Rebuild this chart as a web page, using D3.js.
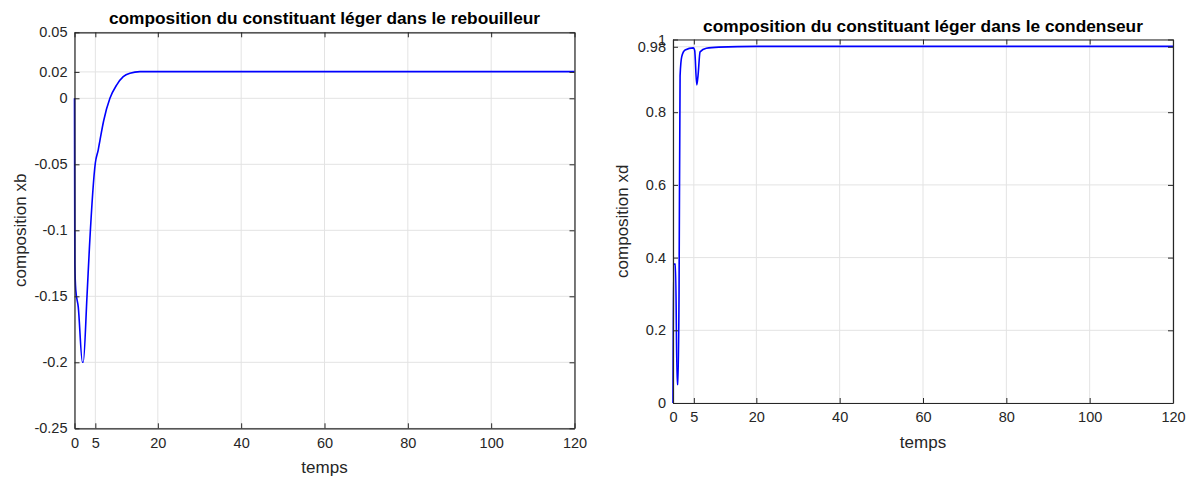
<!DOCTYPE html>
<html><head><meta charset="utf-8">
<script src="https://cdn.jsdelivr.net/npm/d3@7"></script>
<style>
body{margin:0;background:#fff;}
svg{font-family:"Liberation Sans",Arial,sans-serif;}
</style></head>
<body><svg id="c" width="1194" height="477"></svg>
<script>
// ---- data ----
const xTicks = [0, 5, 20, 40, 60, 80, 100, 120];
const xbTicks = [0.05, 0.02, 0, -0.05, -0.1, -0.15, -0.2, -0.25];
const xdTicks = [0, 0.2, 0.4, 0.6, 0.8, 0.98, 1];
const xbT = [0, 0.08, 0.3, 0.9, 1.9, 2.1, 3.0, 3.6, 5.0, 5.7, 6.1, 7.0, 8.5, 10.1, 11.7, 13.3, 15.7, 20, 120];
const xbV = [0, -0.125, -0.145, -0.158, -0.2, -0.2, -0.15, -0.112, -0.049, -0.039, -0.032, -0.017, 0, 0.01, 0.0164, 0.019, 0.0202, 0.0202, 0.0202];
const xdT = [0, 0.15, 0.6, 1.0, 1.2, 1.45, 1.7, 2.1, 2.9, 4.9, 5.2, 5.7, 6.0, 6.5, 8.0, 11, 20, 120];
const xdV = [0, 0.382, 0.382, 0.051, 0.051, 0.3, 0.9, 0.953, 0.971, 0.977, 0.97, 0.875, 0.9, 0.966, 0.976, 0.979, 0.981, 0.981];
const title1 = "composition du constituant léger dans le rebouilleur";
const title2 = "composition du constituant léger dans le condenseur";

const svg = d3.select("#c");
const axisCol = "#262626";

function panel(o){
  const g = svg.append("g");
  const x = d3.scaleLinear().domain([0,120]).range([o.x0,o.x1]);
  const y = d3.scaleLinear().domain(o.ydom).range([o.y1,o.y0]);
  // grid
  g.append("g").selectAll("line").data(xTicks).join("line")
    .attr("x1",d=>x(d)).attr("x2",d=>x(d)).attr("y1",o.y0).attr("y2",o.y1)
    .attr("stroke","#e3e3e3").attr("stroke-width",1);
  g.append("g").selectAll("line").data(o.yticks).join("line")
    .attr("x1",o.x0).attr("x2",o.x1).attr("y1",d=>y(d)).attr("y2",d=>y(d))
    .attr("stroke","#e3e3e3").attr("stroke-width",1);
  // line
  const pts = d3.zip(o.t,o.v);
  g.append("path").datum(pts)
    .attr("d", d3.line().x(d=>x(d[0])).y(d=>y(d[1])).curve(d3.curveMonotoneX))
    .attr("fill","none").attr("stroke","#0000ff").attr("stroke-width",1.6);
  // axes (inner ticks, box)
  const ax = (gen, tr)=>{ const a = g.append("g").attr("transform",tr).call(gen);
    a.select(".domain").attr("stroke",axisCol);
    a.selectAll(".tick line").attr("stroke",axisCol);
    a.selectAll("text").attr("fill",axisCol).style("font-size","14.5px").style("font-family","Liberation Sans, Arial, sans-serif");
    return a; };
  ax(d3.axisBottom(x).tickValues(xTicks).tickSizeInner(-5).tickSizeOuter(0).tickPadding(9), `translate(0,${o.y1})`);
  ax(d3.axisTop(x).tickValues(xTicks).tickSizeInner(-5).tickSizeOuter(0).tickFormat(""), `translate(0,${o.y0})`);
  ax(d3.axisLeft(y).tickValues(o.yticks).tickSizeInner(-5).tickSizeOuter(0).tickPadding(7).tickFormat(o.fmt), `translate(${o.x0},0)`);
  ax(d3.axisRight(y).tickValues(o.yticks).tickSizeInner(-5).tickSizeOuter(0).tickFormat(""), `translate(${o.x1},0)`);
  g.selectAll(".domain").attr("stroke-width",1.2);
  // labels
  g.append("text").attr("x",(o.x0+o.x1)/2).attr("y",o.titleY).attr("text-anchor","middle")
    .style("font-size","17.3px").style("font-weight","bold").attr("fill","#000").text(o.title);
  g.append("text").attr("x",(o.x0+o.x1)/2).attr("y",o.y1+45).attr("text-anchor","middle")
    .style("font-size","17px").attr("fill",axisCol).text("temps");
  g.append("text").attr("transform",`translate(${o.ylx},${(o.y0+o.y1)/2}) rotate(-90)`).attr("text-anchor","middle")
    .style("font-size","17px").attr("fill",axisCol).text(o.ylabel);
}

panel({x0:74.5,x1:574.5,y0:32.3,y1:428.3,ydom:[-0.25,0.05],yticks:xbTicks,t:xbT,v:xbV,
  fmt:d=>d3.format("")(d).replace("−","-"), title:title1, titleY:24, ylabel:"composition xb", ylx:26});
panel({x0:673,x1:1173,y0:39.5,y1:403,ydom:[0,1],yticks:xdTicks,t:xdT,v:xdV,
  fmt:d=>String(d), title:title2, titleY:32, ylabel:"composition xd", ylx:628});
</script></body></html>
